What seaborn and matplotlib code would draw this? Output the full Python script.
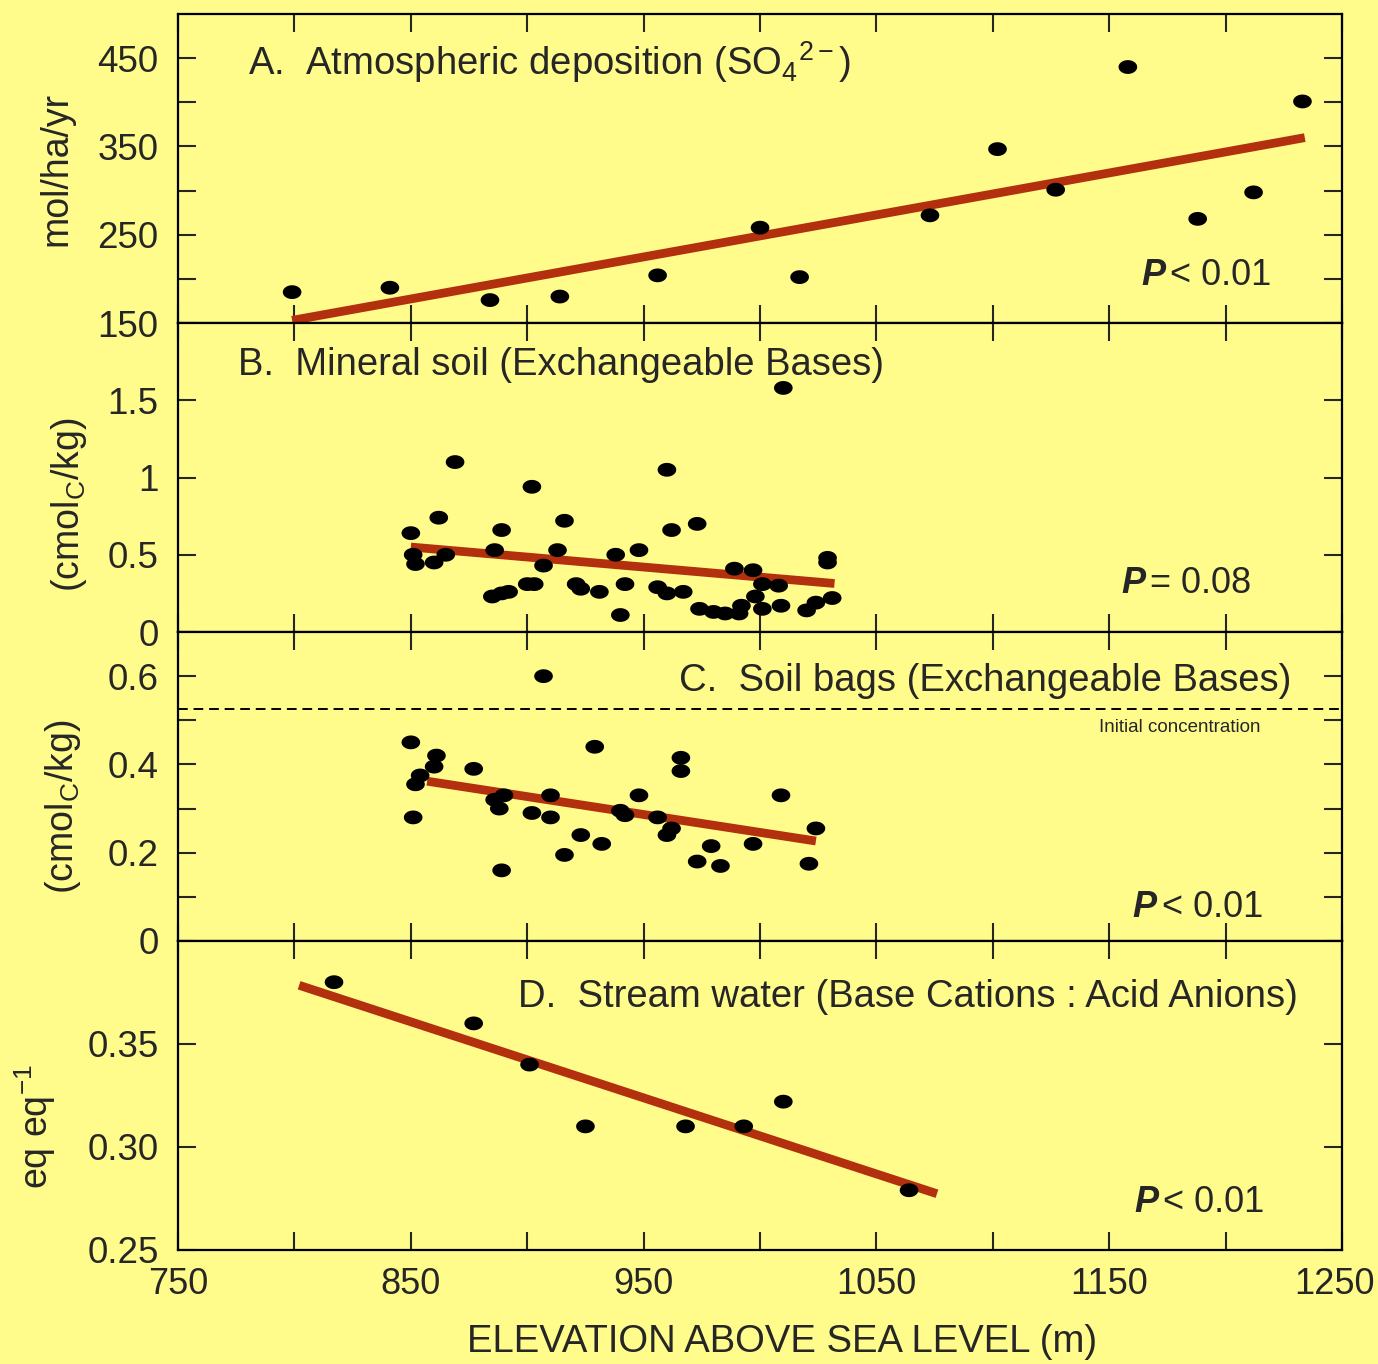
import numpy as np
import matplotlib.pyplot as plt
import matplotlib.transforms as mtransforms
from matplotlib.path import Path
from matplotlib.markers import MarkerStyle
import seaborn as sns

# A. atmospheric deposition (SO4), mol/ha/yr
dep_elev = [799, 841, 884, 914, 956, 1000, 1017, 1073, 1102, 1127, 1158, 1188, 1212, 1233]
dep_so4 = [185, 190, 176, 180, 204, 258, 202, 272, 347, 301, 440, 268, 298, 401]
dep_fit_elev = [799, 1234]
dep_fit = [153, 360]

# B. mineral soil exchangeable bases, cmolc/kg
soil_elev = [1010, 869, 960, 902, 850, 862, 889, 916, 962, 973, 851, 852, 860, 865,
             886, 907, 913, 938, 948, 885, 889, 892, 900, 903, 921, 923, 931, 942,
             940, 956, 960, 967, 989, 997, 1001, 1008, 974, 980, 985, 991, 992, 998,
             1001, 1009, 1020, 1024, 1031, 1029, 1029]
soil_eb = [1.58, 1.10, 1.05, 0.94, 0.64, 0.74, 0.66, 0.72, 0.66, 0.70, 0.50, 0.44, 0.45, 0.50,
           0.53, 0.43, 0.53, 0.50, 0.53, 0.23, 0.25, 0.26, 0.31, 0.31, 0.31, 0.28, 0.26, 0.31,
           0.11, 0.29, 0.25, 0.26, 0.41, 0.40, 0.31, 0.30, 0.15, 0.13, 0.12, 0.12, 0.17, 0.23,
           0.15, 0.17, 0.14, 0.19, 0.22, 0.45, 0.48]
soil_fit_elev = [850, 1032]
soil_fit = [0.55, 0.314]

# C. soil bags exchangeable bases, cmolc/kg
bag_elev = [907, 850, 861, 860, 854, 852, 851, 877, 929, 966, 966, 886, 890, 888, 910, 902,
            910, 889, 916, 923, 932, 940, 942, 948, 956, 962, 960, 973, 979, 983, 997, 1009,
            1024, 1021]
bag_eb = [0.60, 0.45, 0.42, 0.395, 0.375, 0.355, 0.28, 0.39, 0.44, 0.415, 0.385, 0.32, 0.33,
          0.30, 0.33, 0.29, 0.28, 0.16, 0.195, 0.24, 0.22, 0.295, 0.285, 0.33, 0.28, 0.255,
          0.24, 0.18, 0.215, 0.17, 0.22, 0.33, 0.255, 0.175]
bag_fit_elev = [857, 1024]
bag_fit = [0.362, 0.2265]
bag_initial = 0.525

# D. stream water base cations : acid anions, eq/eq
stream_elev = [817, 877, 901, 925, 968, 993, 1010, 1064]
stream_ratio = [0.380, 0.360, 0.340, 0.310, 0.310, 0.310, 0.322, 0.279]
stream_fit_elev = [802, 1076]
stream_fit = [0.3785, 0.2773]

elev_ticks = [750, 800, 850, 900, 950, 1000, 1050, 1100, 1150, 1200, 1250]
elev_labels = ['750', '', '850', '', '950', '', '1050', '', '1150', '', '1250']

panels = [
    dict(x=dep_elev, y=dep_so4, fx=dep_fit_elev, fy=dep_fit, ylim=(150, 500),
         yticks=[150, 200, 250, 300, 350, 400, 450],
         ylabels=['150', '', '250', '', '350', '', '450'],
         ylabel='mol/ha/yr', lab_xy=(-0.089, 0.498),
         title='A.  Atmospheric deposition (SO$_4{}^{2-}$)', title_xy=(0.0601, 0.8026),
         p_sym='< 0.01', p_xy=(0.848, 0.123)),
    dict(x=soil_elev, y=soil_eb, fx=soil_fit_elev, fy=soil_fit, ylim=(0, 2),
         yticks=[0, 0.5, 1, 1.5], ylabels=['0', '0.5', '1', '1.5'],
         ylabel='(cmol$_\\mathrm{C}$/kg)', lab_xy=(-0.0765, 0.411),
         title='B.  Mineral soil (Exchangeable Bases)', title_xy=(0.0515, 0.832),
         p_sym='= 0.08', p_xy=(0.831, 0.126)),
    dict(x=bag_elev, y=bag_eb, fx=bag_fit_elev, fy=bag_fit, ylim=(0, 0.7),
         yticks=[0, 0.1, 0.2, 0.3, 0.4, 0.5, 0.6],
         ylabels=['0', '', '0.2', '', '0.4', '', '0.6'],
         ylabel='(cmol$_\\mathrm{C}$/kg)', lab_xy=(-0.0816, 0.435),
         title='C.  Soil bags (Exchangeable Bases)', title_xy=(0.4304, 0.809),
         p_sym='< 0.01', p_xy=(0.841, 0.078)),
    dict(x=stream_elev, y=stream_ratio, fx=stream_fit_elev, fy=stream_fit, ylim=(0.25, 0.40),
         yticks=[0.25, 0.30, 0.35], ylabels=['0.25', '0.30', '0.35'],
         ylabel='eq eq$^{-1}$', lab_xy=(-0.103, 0.40),
         title='D.  Stream water (Base Cations : Acid Anions)', title_xy=(0.292, 0.787),
         p_sym='< 0.01', p_xy=(0.842, 0.123)),
]

bg = '#FFFC8C'
trend_col = '#B3300F'

sns.set_style('ticks', rc={'axes.facecolor': bg, 'figure.facecolor': bg,
                           'axes.edgecolor': 'black'})
plt.rcParams['font.family'] = ['Liberation Sans', 'DejaVu Sans']
plt.rcParams['mathtext.fontset'] = 'custom'
plt.rcParams['mathtext.rm'] = 'Liberation Sans'
plt.rcParams['mathtext.it'] = 'Liberation Sans:italic'
plt.rcParams['mathtext.bf'] = 'Liberation Sans:bold'

# slightly flattened dot like the original
t = np.linspace(0, 2 * np.pi, 64)
ellipse = MarkerStyle(Path(np.column_stack([np.cos(t), 0.74 * np.sin(t)]), closed=True))

fig, axes = plt.subplots(4, 1, figsize=(13.78, 13.64), dpi=100, sharex=True)
fig.subplots_adjust(left=0.1292, right=0.9739, bottom=0.0836, top=0.9897, hspace=0)

for ax, p in zip(axes, panels):
    sns.lineplot(x=p['fx'], y=p['fy'], ax=ax, color=trend_col, linewidth=6.3,
                 solid_capstyle='butt', zorder=2)
    sns.scatterplot(x=p['x'], y=p['y'], ax=ax, color='black', marker=ellipse, s=180,
                    edgecolor='none', linewidth=0, zorder=3)
    ax.set_xlim(750, 1250)
    ax.set_ylim(*p['ylim'])
    ax.set_yticks(p['yticks'])
    ax.set_yticklabels(p['ylabels'])
    ax.tick_params(direction='in', length=13, width=1.5, top=True, right=True,
                   labelsize=26.5)
    ax.tick_params(axis='y', pad=14)
    ax.tick_params(axis='x', pad=12)
    for s in ax.spines.values():
        s.set_linewidth(1.6)
    ax.set_ylabel(p['ylabel'], fontsize=27)
    ax.yaxis.set_label_coords(*p['lab_xy'])
    ax.set_xlabel('')
    ax.text(*p['title_xy'], p['title'], transform=ax.transAxes, ha='left',
            va='baseline', fontsize=27.5)
    px, py = p['p_xy']
    ax.text(px, py, 'P', transform=ax.transAxes, ha='right', va='baseline',
            fontsize=26, fontweight='bold', fontstyle='italic')
    ax.text(px + 0.004, py, p['p_sym'], transform=ax.transAxes, ha='left',
            va='baseline', fontsize=26)

axes[2].axhline(bag_initial, color='black', linestyle=(0, (5, 3)), linewidth=1.4, zorder=1)
axes[2].text(0.791, 0.677, 'Initial concentration', transform=axes[2].transAxes,
             ha='left', va='baseline', fontsize=13.5)

axes[-1].set_xticks(elev_ticks)
axes[-1].set_xticklabels(elev_labels, fontsize=26)
axes[-1].set_xlabel('ELEVATION ABOVE SEA LEVEL (m)', fontsize=27.5)
axes[-1].xaxis.set_label_coords(0.519, -0.2395)

# last tick label sits a little left of its tick so it stays inside the figure
last = axes[-1].xaxis.get_major_ticks()[-1].label1
last.set_transform(last.get_transform()
                   + mtransforms.ScaledTranslation(-8 / 100, 0, fig.dpi_scale_trans))

fig.savefig('out.png', dpi=100, facecolor=bg)
